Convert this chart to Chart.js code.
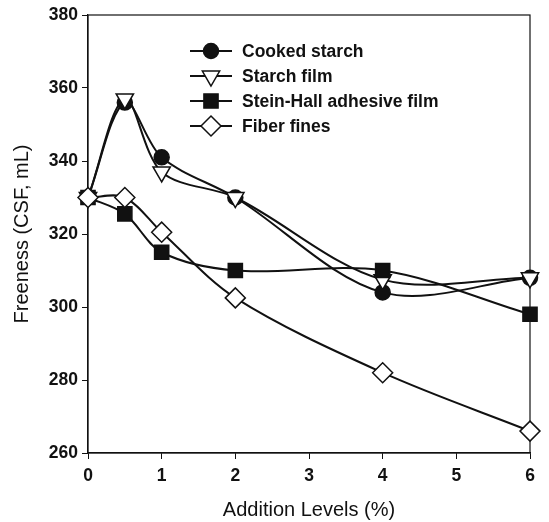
<!DOCTYPE html>
<html>
<head>
<meta charset="utf-8">
<script src="https://cdn.jsdelivr.net/npm/chart.js@4"></script>
<style>
  html, body { margin: 0; padding: 0; background: #fff; }
  #wrap { width: 549px; height: 522px; }
</style>
</head>
<body>
<div id="wrap"><canvas id="chart" width="549" height="522"></canvas></div>
<script>
const addition = [0, 0.5, 1, 2, 4, 6];
const cookedStarch = [330, 356, 341, 330, 304, 308];
const starchFilm = [330, 357, 337, 330, 307.5, 308];
const steinHall = [330, 325.5, 315, 310, 310, 298];
const fiberFines = [330, 330, 320.5, 302.5, 282, 266];
const yTicks = [260, 280, 300, 320, 340, 360, 380];
const xTicks = [0, 1, 2, 3, 4, 5, 6];

const FONT = "'Liberation Sans', Arial, sans-serif";
const INK = "#111";

const series = [
  { label: "Cooked starch", data: cookedStarch, style: "circle", radius: 7.5, fill: INK, rotation: 0, order: 3 },
  { label: "Starch film", data: starchFilm, style: "triangle", radius: 10, fill: "#fff", rotation: 180, order: 2 },
  { label: "Stein-Hall adhesive film", data: steinHall, style: "rect", radius: 10, fill: INK, rotation: 0, order: 1 },
  { label: "Fiber fines", data: fiberFines, style: "rectRot", radius: 10, fill: "#fff", rotation: 0, order: 0 },
];

const toPoints = (ys) => ys.map((y, i) => ({ x: addition[i], y }));

// box around the plot + legend drawn inside it
const boxAndLegend = {
  id: "boxAndLegend",
  beforeDatasetsDraw(chart) {
    const ctx = chart.ctx;
    const a = chart.chartArea;
    ctx.save();
    ctx.strokeStyle = INK;
    ctx.lineWidth = 1.2;
    ctx.strokeRect(a.left, a.top, a.right - a.left, a.bottom - a.top);
    ctx.restore();
  },
  afterDatasetsDraw(chart) {
    const ctx = chart.ctx;
    ctx.save();
    const rowsY = [51, 76, 101, 126];
    series.forEach((s, i) => {
      const y = rowsY[i];
      ctx.strokeStyle = INK;
      ctx.lineWidth = 2;
      ctx.beginPath();
      ctx.moveTo(190, y);
      ctx.lineTo(232, y);
      ctx.stroke();
      ctx.fillStyle = s.fill;
      ctx.lineWidth = 1.5;
      Chart.helpers.drawPoint(ctx, { pointStyle: s.style, radius: s.radius, rotation: s.rotation, borderWidth: 1.5 }, 211, y);
      ctx.fillStyle = INK;
      ctx.font = "bold 17.5px " + FONT;
      ctx.textBaseline = "middle";
      ctx.textAlign = "left";
      ctx.fillText(s.label, 242, y + 1);
    });
    ctx.restore();
  },
};

new Chart(document.getElementById("chart"), {
  type: "line",
  data: {
    datasets: series.map((s) => ({
      label: s.label,
      data: toPoints(s.data),
      order: s.order,
      clip: false,
      borderColor: INK,
      borderWidth: 2,
      tension: 0.33,
      pointStyle: s.style,
      pointRadius: s.radius,
      pointRotation: s.rotation,
      pointBackgroundColor: s.fill,
      pointBorderColor: INK,
      pointBorderWidth: 1.5,
      fill: false,
    })),
  },
  options: {
    responsive: false,
    animation: false,
    events: [],
    layout: { padding: { top: 15, right: 19, left: 0, bottom: 0 } },
    plugins: {
      legend: { display: false },
      tooltip: { enabled: false },
    },
    scales: {
      x: {
        type: "linear",
        min: 0,
        max: 6,
        afterBuildTicks: (s) => { s.ticks = xTicks.map((v) => ({ value: v })); },
        afterFit: (s) => { s.height = 69; },
        grid: { drawOnChartArea: false, drawTicks: true, tickLength: 6, color: INK },
        border: { display: true, color: INK, width: 1.2 },
        ticks: { color: INK, font: { family: FONT, size: 17.5, weight: "bold" }, padding: 7, maxRotation: 0 },
        title: { display: true, text: "Addition Levels (%)", color: INK, font: { family: FONT, size: 20 }, padding: { top: 2, bottom: 0 } },
      },
      y: {
        min: 260,
        max: 380,
        afterBuildTicks: (s) => { s.ticks = yTicks.map((v) => ({ value: v })); },
        afterFit: (s) => { s.width = 88; },
        grid: { drawOnChartArea: false, drawTicks: true, tickLength: 6, color: INK },
        border: { display: true, color: INK, width: 1.2 },
        ticks: { color: INK, font: { family: FONT, size: 17.5, weight: "bold" }, padding: 4 },
        title: { display: true, text: "Freeness (CSF, mL)", color: INK, font: { family: FONT, size: 20 }, padding: { top: 10, bottom: 0 } },
      },
    },
  },
  plugins: [boxAndLegend],
});
</script>
</body>
</html>
